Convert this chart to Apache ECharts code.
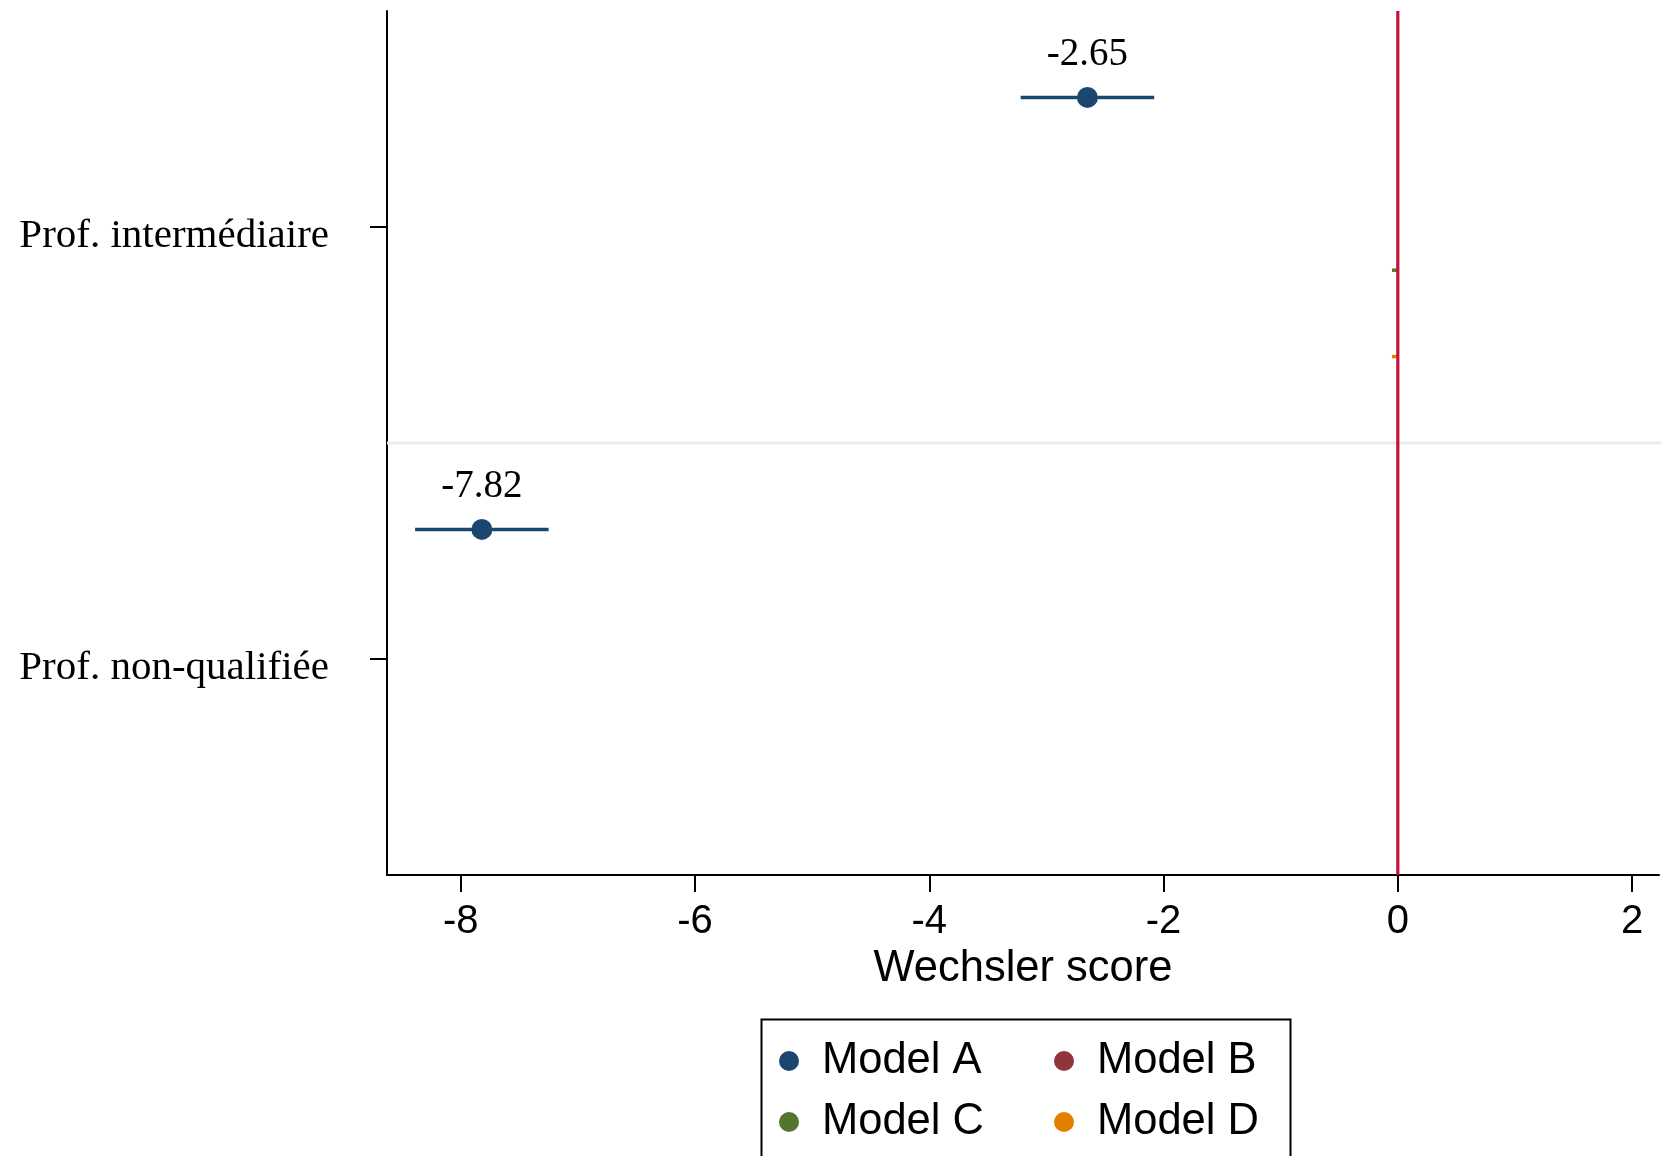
<!DOCTYPE html>
<html>
<head>
<meta charset="utf-8">
<script src="https://cdn.jsdelivr.net/npm/echarts@6/dist/echarts.min.js"></script>
<style>html,body{margin:0;padding:0;background:#fff}#c{width:1678px;height:1156px}</style>
</head>
<body>
<div id="c"></div>
<script>
const categories = ['Prof. intermédiaire', 'Prof. non-qualifiée'];
const models = ['Model A', 'Model B', 'Model C', 'Model D'];
const modelColors = ['#1a476f', '#90353b', '#55752f', '#e37e00'];
const xTicks = [-8, -6, -4, -2, 0, 2];

// per model, per category: estimate, lower and upper bound (null = not drawn)
const estA = [-2.65, -7.82];
const loA  = [-3.22, -8.39];
const hiA  = [-2.08, -7.25];
const estB = [null, null];
const loB  = [null, null];
const hiB  = [null, null];
const estC = [null, null];
const loC  = [-0.05, null];
const hiC  = [0.0, null];
const estD = [null, null];
const loD  = [-0.05, null];
const hiD  = [0.0, null];

const est = [estA, estB, estC, estD];
const lo = [loA, loB, loC, loD];
const hi = [hiA, hiB, hiC, hiD];

const slots = models.length + 1;
const yMax = categories.length * slots;
function slotY(ci, mi) { return ci * slots + mi + 1; }
const catTicks = categories.map((c, i) => i * slots + slots / 2);

const serif = '"Liberation Serif", "Times New Roman", serif';
const sans = '"Liberation Sans", Arial, sans-serif';

const series = [];
// separator between groups
series.push({
  type: 'custom', name: 'sep', silent: true, z: 1,
  data: categories.slice(1).map((c, i) => [0, (i + 1) * slots]),
  encode: { x: 0, y: 1 },
  renderItem: function (params, api) {
    const y = api.value(1);
    const a = api.coord([0, y]);
    const cs = params.coordSys;
    return { type: 'line', shape: { x1: cs.x, y1: a[1], x2: cs.x + cs.width + 2, y2: a[1] },
      style: { stroke: '#e6eef1', lineWidth: 3 } };
  }
});

models.forEach((m, mi) => {
  const data = [];
  categories.forEach((c, ci) => {
    if (lo[mi][ci] !== null) {
      data.push({ value: [lo[mi][ci], hi[mi][ci], slotY(ci, mi)], est: est[mi][ci] });
    }
  });
  series.push({
    type: 'custom', name: m, z: 3,
    itemStyle: { color: modelColors[mi] },
    data: data,
    encode: { x: [0, 1], y: 2 },
    renderItem: function (params, api) {
      const d = data[params.dataIndex];
      const y = api.value(2);
      const p1 = api.coord([api.value(0), y]);
      const p2 = api.coord([api.value(1), y]);
      const children = [{ type: 'line', shape: { x1: p1[0], y1: p1[1], x2: p2[0], y2: p2[1] },
        style: { stroke: modelColors[mi], lineWidth: 3.5 } }];
      if (d.est !== null) {
        const p = api.coord([d.est, y]);
        children.push({ type: 'circle', shape: { cx: p[0], cy: p[1], r: 10.5 }, style: { fill: modelColors[mi] } });
        children.push({ type: 'text', x: p[0], y: p[1] - 43,
          style: { text: d.est.toFixed(2), fill: '#000', font: '39px ' + serif, align: 'center', verticalAlign: 'middle' } });
      }
      return { type: 'group', children: children };
    }
  });
});

// reference line at zero
series.push({
  type: 'custom', name: 'ref', silent: true, z: 5,
  data: [[0]],
  encode: { x: 0 },
  renderItem: function (params, api) {
    const a = api.coord([0, 0]), b = api.coord([0, yMax]);
    return { type: 'line', shape: { x1: a[0], y1: a[1], x2: b[0], y2: b[1] },
      style: { stroke: '#c8103a', lineWidth: 3.2 } };
  }
});

const legendCommon = {
  orient: 'vertical', itemWidth: 20, itemHeight: 20, itemGap: 17, padding: 0,
  icon: 'circle', selectedMode: false,
  textStyle: { fontFamily: sans, fontSize: 43.5, lineHeight: 43, color: '#000', padding: [0, 0, 0, 18] }
};

const option = {
  animation: false,
  backgroundColor: '#fff',
  grid: { left: 387, right: 19, top: 11, bottom: 281, containLabel: false, outerBoundsMode: 'none' },
  xAxis: {
    type: 'value', min: -8.63, max: 2.23,
    name: 'Wechsler score', nameLocation: 'middle', nameGap: 72,
    nameTextStyle: { fontFamily: sans, fontSize: 43.5, color: '#000' },
    axisLine: { show: true, onZero: false, lineStyle: { color: '#000', width: 2 } },
    axisTick: { show: true, length: 17, lineStyle: { color: '#000', width: 2 }, customValues: xTicks },
    axisLabel: { fontFamily: sans, fontSize: 40, color: '#000', margin: 27, customValues: xTicks },
    splitLine: { show: false }
  },
  yAxis: {
    type: 'value', inverse: true, min: 0, max: yMax,
    name: 'Predictors', nameLocation: 'middle', nameGap: 334, nameRotate: 90,
    nameTextStyle: { fontFamily: sans, fontSize: 43.5, color: '#000' },
    axisLine: { show: true, onZero: false, lineStyle: { color: '#000', width: 2 } },
    axisTick: { show: true, length: 17, lineStyle: { color: '#000', width: 2 }, customValues: catTicks },
    axisLabel: {
      fontFamily: serif, fontSize: 41, color: '#000', margin: 58, customValues: catTicks,
      verticalAlign: 'top', lineHeight: 18,
      formatter: function (v) {
        const i = catTicks.findIndex(t => Math.abs(t - v) < 1e-6);
        return i >= 0 ? categories[i] : '';
      }
    },
    splitLine: { show: false }
  },
  legend: [
    Object.assign({}, legendCommon, { left: 779, top: 1039, data: [models[0], models[2]] }),
    Object.assign({}, legendCommon, { left: 1054, top: 1039, data: [models[1], models[3]] })
  ],
  graphic: [{
    type: 'rect', left: 759, top: 1017, z: 100,
    shape: { width: 529, height: 200 },
    style: { fill: 'none', stroke: '#000', lineWidth: 2 }
  }],
  series: series
};

const chart = echarts.init(document.getElementById('c'));
chart.setOption(option);
</script>
</body>
</html>
